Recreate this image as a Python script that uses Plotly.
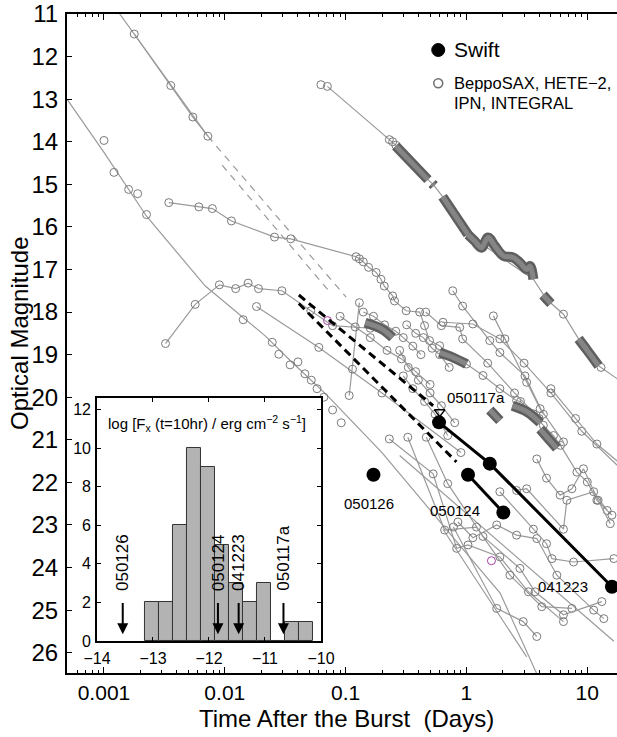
import plotly.graph_objects as go

# ---------------- DATA ----------------
# Pre-Swift afterglows (time after burst in days, optical magnitude)
grb_a_t = [0.00178, 0.00357, 0.00544, 0.00724]
grb_a_mag = [11.47, 12.68, 13.42, 13.87]
grb_a_fit_t = [0.00135, 0.00724]
grb_a_fit_mag = [11.0, 13.87]
grb_a_ext1_t = [0.00724, 0.101]
grb_a_ext1_mag = [13.87, 17.65]
grb_a_ext2_t = [0.0095, 0.075]
grb_a_ext2_mag = [14.55, 17.55]

grb_b_t = [0.00100, 0.00121, 0.00160, 0.00190, 0.00225, 0.0142, 0.0247, 0.0280, 0.0347, 0.0403, 0.046, 0.052, 0.058, 0.066, 0.078, 0.092]
grb_b_mag = [13.97, 14.72, 15.12, 15.22, 15.71, 18.18, 18.71, 18.99, 19.24, 19.17, 19.45, 19.6, 19.8, 20.0, 20.3, 20.6]
grb_b_fit_t = [0.000494, 0.001, 0.00225, 0.0069, 0.0216, 0.036, 0.07, 0.2, 0.88, 1.9, 3.8]
grb_b_fit_mag = [13.0, 14.25, 15.75, 17.39, 18.56, 19.18, 19.95, 21.3, 23.48, 24.6, 26.48]

grb_c_t = [0.00344, 0.0061, 0.00789, 0.01135, 0.0258, 0.0351, 0.122, 0.13, 0.14, 0.155, 0.179, 0.196,
           0.209, 0.245, 0.254, 0.317, 0.41, 0.45, 0.495, 0.6, 0.75, 1.0, 1.37, 1.89, 2.6, 2.8, 3.58,
           4.33, 5.25, 6.0, 8.2, 10.0, 12.0, 16.0]
grb_c_mag = [15.43, 15.53, 15.57, 15.86, 16.24, 16.28, 16.70, 16.75, 16.82, 16.95, 17.07, 17.23,
             17.39, 17.62, 17.74, 17.97, 18.0, 18.32, 18.67, 18.79, 19.05, 19.22, 19.49, 19.8, 20.08, 20.1, 20.39,
             20.66, 20.9, 21.13, 21.76, 21.99, 22.42, 22.77]

grb_d_t = [0.0624, 0.0706, 0.23, 0.245, 0.26, 4.6, 6.35, 13.0]
grb_d_mag = [12.66, 12.70, 13.95, 14.0, 14.08, 17.7, 18.05, 19.3]
grb_d_line_t = [0.0706, 0.26, 0.48, 0.53, 0.635, 1.03, 3.58, 4.6, 6.35, 8.47, 12.4, 17.75]
grb_d_line_mag = [12.7, 14.08, 14.89, 15.0, 15.29, 16.18, 17.23, 17.7, 18.05, 18.63, 19.26, 19.57]

grb_e_t = [0.00323, 0.00569, 0.00902, 0.0123, 0.0156, 0.019, 0.0297, 0.0515, 0.078, 0.16]
grb_e_mag = [18.74, 17.82, 17.36, 17.45, 17.32, 17.45, 17.50, 17.97, 18.32, 18.38]

grb_f_t = [0.0183, 0.06, 0.2, 0.9]
grb_f_mag = [17.87, 18.83, 19.9, 21.3]
grb_g_t = [0.13, 0.114, 0.107]
grb_g_mag = [17.78, 19.34, 19.96]

lr1_t = [0.23, 0.53, 0.83, 1.03, 1.89, 3.26, 6.35]
lr1_mag = [20.98, 21.8, 23.55, 23.47, 23.75, 24.57, 25.27]
lr2_t = [0.327, 0.66, 1.21, 2.29, 4.2, 7.46]
lr2_mag = [20.94, 23.12, 23.05, 24.18, 24.92, 24.96]
lr3_t = [0.465, 0.7, 1.37, 2.77, 3.7, 6.35, 13.2]
lr3_mag = [20.94, 22.03, 23.27, 24.02, 24.57, 25.11, 24.8]
lr4_t = [0.78, 1.78, 2.95, 3.82]
lr4_mag = [23.05, 24.96, 25.27, 25.62]
lr5_t = [0.85, 1.13, 1.78, 2.6, 3.82, 5.6, 11.3, 13.7]
lr5_mag = [22.93, 23.3, 23.0, 23.24, 23.32, 24.18, 25.0, 25.2]
lr6_t = [1.89, 3.58, 4.6, 5.1, 7.7, 16.6]
lr6_mag = [22.22, 23.1, 23.44, 23.79, 23.87, 23.79]
lr7_t = [2.6, 3.15, 6.35, 6.78, 11.3, 14.6]
lr7_mag = [22.19, 22.15, 23.1, 22.42, 22.22, 22.66]
lr8_t = [3.82, 4.6, 5.96, 7.46, 9.3, 12.3, 15.5]
lr8_mag = [21.45, 21.9, 22.3, 22.15, 21.68, 22.42, 22.97]

ur1_t = [0.77, 0.93, 1.56, 1.89, 3.05, 4.33]
ur1_mag = [17.5, 17.86, 18.67, 18.95, 19.5, 20.4]
ur2_t = [1.67, 2.08, 3.15, 4.07, 6.35]
ur2_mag = [18.09, 18.63, 19.65, 20.27, 21.05]
ur3_t = [0.46, 0.62, 0.88, 0.93, 1.5, 2.5, 4.0]
ur3_mag = [18.0, 18.32, 18.36, 18.63, 19.2, 19.9, 20.5]
ur4_t = [0.64, 1.13, 1.89, 3.0, 5.0, 9.0, 17.7]
ur4_mag = [18.24, 18.28, 18.63, 19.2, 19.9, 20.8, 21.6]
ur5_t = [5.0, 8.0, 12.0, 17.7]
ur5_mag = [19.8, 20.5, 21.1, 21.5]
mid1_t = [0.28, 0.33, 0.4, 0.5, 0.62, 0.8]
mid1_mag = [18.9, 19.3, 19.6, 19.9, 20.2, 20.6]
mid2_t = [0.3, 0.36, 0.45, 0.55, 0.7]
mid2_mag = [19.5, 19.8, 20.1, 20.4, 20.9]
mid3_t = [0.14, 0.17, 0.21, 0.26, 0.3, 0.36, 0.42]
mid3_mag = [18.0, 18.1, 18.3, 18.45, 18.6, 18.8, 19.0]
mid4_t = [0.09, 0.12, 0.16, 0.22, 0.29, 0.38, 0.5]
mid4_mag = [18.1, 18.35, 18.6, 18.9, 19.1, 19.4, 19.7]
mid5_t = [0.32, 0.38, 0.44, 0.52, 0.6, 0.72]
mid5_mag = [18.3, 18.5, 18.6, 18.85, 19.0, 19.3]

long1_t = [0.28, 16.6]
long1_mag = [21.37, 25.73]
long2_t = [0.64, 3.15]
long2_mag = [23.1, 26.1]

# densely sampled segments (drawn as thick bands)
band1_t = [0.26, 0.48]
band1_mag = [14.1, 14.89]
band2_t = [0.52, 0.54]
band2_mag = [14.98, 15.03]
band3_t = [0.635, 1.03]
band3_mag = [15.29, 16.18]
band4_t = [1.03, 1.17, 1.33, 1.51, 1.72, 2.02, 2.44, 2.77, 3.15, 3.36, 3.58]
band4_mag = [16.18, 16.33, 16.49, 16.25, 16.45, 16.68, 16.72, 16.84, 17.0, 16.92, 17.23]
band5_t = [4.3, 5.0]
band5_mag = [17.6, 17.8]
band6_t = [8.47, 10.0, 12.4]
band6_mag = [18.63, 18.9, 19.26]
band7_t = [0.6, 0.75, 1.0]
band7_mag = [18.95, 19.05, 19.22]
band8_t = [0.145, 0.2, 0.245]
band8_mag = [18.25, 18.4, 18.6]
band9_t = [1.56, 1.89]
band9_mag = [20.3, 20.55]
band10_t = [2.4, 3.2, 4.07]
band10_mag = [20.2, 20.35, 20.6]
band11_t = [4.07, 5.6]
band11_mag = [20.75, 21.2]

magenta_t = [0.0708, 1.61]
magenta_mag = [18.2, 23.84]

# Swift afterglows
swift_041223_t = [0.593, 1.56, 16.0]
swift_041223_mag = [20.59, 21.56, 24.45]
swift_050124_t = [1.03, 2.02]
swift_050124_mag = [21.82, 22.71]
swift_050126_t = [0.17]
swift_050126_mag = [21.82]
swift_050117a_lim_t = [0.6]
swift_050117a_lim_mag = [20.35]
swift_ext1_t = [0.041, 0.53]
swift_ext1_mag = [17.6, 20.2]
swift_ext2_t = [0.041, 0.826]
swift_ext2_mag = [17.8, 21.52]

# Inset: distribution of log X-ray flux at t = 10 hr
fx_bin_centers = [-13.01, -12.76, -12.51, -12.26, -12.01, -11.76, -11.51, -11.26, -11.01, -10.76, -10.51, -10.26]
fx_counts = [2, 2, 6, 10, 9, 5, 3, 2, 3, 0, 1, 1]
fx_bin_width = 0.25
swift_fx_names = ["050126", "050124", "041223", "050117a"]
swift_fx_logflux = [-13.54, -11.84, -11.47, -10.67]

x_tick_vals = [0.001, 0.01, 0.1, 1, 10]
x_tick_text = ["0.001", "0.01", "0.1", "1", "10"]
y_tick_vals = list(range(11, 27))
inset_x_ticks = [-14, -13, -12, -11, -10]
inset_y_ticks = [0, 2, 4, 6, 8, 10, 12]

# ---------------- FIGURE ----------------
GRAY_LINE = "#9a9a9a"
GRAY_MARK = "#7a7a7a"
FONT = "Liberation Sans, Arial, sans-serif"

fig = go.Figure()

def add_curve(t, m, mode="lines+markers", dash=None, width=1.2, color=GRAY_LINE):
    fig.add_trace(go.Scatter(
        x=t, y=m, mode=mode, showlegend=False, hoverinfo="skip",
        line=dict(color=color, width=width, dash=dash),
        marker=dict(symbol="circle-open", size=8, color=GRAY_MARK, line=dict(width=1, color=GRAY_MARK)),
        xaxis="x", yaxis="y", cliponaxis=True))

fit_lines = [(grb_a_fit_t, grb_a_fit_mag), (grb_b_fit_t, grb_b_fit_mag), (grb_d_line_t, grb_d_line_mag),
             (long1_t, long1_mag), (long2_t, long2_mag)]
for t, m in fit_lines:
    add_curve(t, m, mode="lines")
for t, m in [(grb_a_ext1_t, grb_a_ext1_mag), (grb_a_ext2_t, grb_a_ext2_mag)]:
    add_curve(t, m, mode="lines", dash="7px,6px")

curves = [(grb_a_t, grb_a_mag), (grb_c_t, grb_c_mag), (grb_e_t, grb_e_mag), (grb_f_t, grb_f_mag),
          (grb_g_t, grb_g_mag), (lr1_t, lr1_mag), (lr2_t, lr2_mag), (lr3_t, lr3_mag), (lr4_t, lr4_mag),
          (lr5_t, lr5_mag), (lr6_t, lr6_mag), (lr7_t, lr7_mag), (lr8_t, lr8_mag), (ur1_t, ur1_mag),
          (ur2_t, ur2_mag), (ur3_t, ur3_mag), (ur4_t, ur4_mag), (ur5_t, ur5_mag), (mid1_t, mid1_mag),
          (mid2_t, mid2_mag), (mid3_t, mid3_mag), (mid4_t, mid4_mag), (mid5_t, mid5_mag)]
for t, m in curves:
    add_curve(t, m)
add_curve(grb_b_t, grb_b_mag, mode="markers")
add_curve(grb_d_t, grb_d_mag, mode="markers")

bands = [(band1_t, band1_mag), (band2_t, band2_mag), (band3_t, band3_mag), (band4_t, band4_mag),
         (band5_t, band5_mag), (band6_t, band6_mag), (band7_t, band7_mag), (band8_t, band8_mag),
         (band9_t, band9_mag), (band10_t, band10_mag), (band11_t, band11_mag)]
for t, m in bands:
    fig.add_trace(go.Scatter(x=t, y=m, mode="lines", showlegend=False, hoverinfo="skip",
                             line=dict(color="#5f5f5f", width=10, shape="spline")))
    fig.add_trace(go.Scatter(x=t, y=m, mode="lines", showlegend=False, hoverinfo="skip",
                             line=dict(color="#858585", width=5, shape="spline")))

fig.add_trace(go.Scatter(x=magenta_t, y=magenta_mag, mode="markers", showlegend=False, hoverinfo="skip",
                         marker=dict(symbol="circle-open", size=8, color="#a43fa4", line=dict(width=1))))

# Swift
for t, m in [(swift_ext1_t, swift_ext1_mag), (swift_ext2_t, swift_ext2_mag)]:
    fig.add_trace(go.Scatter(x=t, y=m, mode="lines", showlegend=False, hoverinfo="skip",
                             line=dict(color="black", width=3, dash="8px,5px")))
for t, m in [(swift_041223_t, swift_041223_mag), (swift_050124_t, swift_050124_mag),
             (swift_050126_t, swift_050126_mag)]:
    fig.add_trace(go.Scatter(x=t, y=m, mode="lines+markers", showlegend=False, hoverinfo="skip",
                             line=dict(color="black", width=3),
                             marker=dict(symbol="circle", size=14, color="black"), cliponaxis=False))
fig.add_trace(go.Scatter(x=swift_050117a_lim_t, y=swift_050117a_lim_mag, mode="markers", showlegend=False,
                         hoverinfo="skip",
                         marker=dict(symbol="triangle-down-open", size=9, color="black", line=dict(width=1.5))))

# Inset histogram
fig.add_trace(go.Bar(x=fx_bin_centers, y=fx_counts, width=fx_bin_width, xaxis="x2", yaxis="y2",
                     marker=dict(color="#b3b3b3", line=dict(color="#333333", width=1)),
                     showlegend=False, hoverinfo="skip"))

annotations = []
for txt, lx, ly in [("050117a", 0.083, 20.0), ("050126", -0.804, 22.5), ("050124", -0.097, 22.66),
                    ("041223", 0.80, 24.44)]:
    annotations.append(dict(x=lx, y=ly, xref="x", yref="y", text=txt, showarrow=False,
                            font=dict(size=15, color="black", family=FONT)))
for name, v in zip(swift_fx_names, swift_fx_logflux):
    annotations.append(dict(x=v, y=0.35, xref="x2", yref="y2", ax=v, ay=2.05, axref="x2", ayref="y2",
                            text="", showarrow=True, arrowhead=2, arrowsize=1.1, arrowwidth=2,
                            arrowcolor="black"))
    annotations.append(dict(x=v, y=2.5, xref="x2", yref="y2", text=name, textangle=-90, showarrow=False,
                            xanchor="center", yanchor="bottom",
                            font=dict(size=17, color="black", family=FONT)))
annotations.append(dict(x=-12.03, y=11.3, xref="x2", yref="y2",
                        text="log [F<sub>x</sub> (t=10hr) / erg cm<sup>\u22122</sup> s<sup>\u22121</sup>]",
                        showarrow=False, font=dict(size=15, color="black", family=FONT)))
annotations.append(dict(x=0.7, y=0.9454, xref="paper", yref="paper", text="Swift", showarrow=False,
                        xanchor="left", yanchor="middle", font=dict(size=21, color="black", family=FONT)))
annotations.append(dict(x=0.7, y=0.8948, xref="paper", yref="paper", text="BeppoSAX, HETE\u22122,",
                        showarrow=False, xanchor="left", yanchor="middle",
                        font=dict(size=16.5, color="black", family=FONT)))
annotations.append(dict(x=0.7, y=0.8646, xref="paper", yref="paper", text="IPN, INTEGRAL",
                        showarrow=False, xanchor="left", yanchor="middle",
                        font=dict(size=16.5, color="black", family=FONT)))
annotations.append(dict(x=0.508, y=-0.069, xref="paper", yref="paper",
                        text="Time After the Burst\u00a0 (Days)", showarrow=False,
                        xanchor="center", yanchor="middle", font=dict(size=24, color="black", family=FONT)))
annotations.append(dict(x=-0.0855, y=0.516, xref="paper", yref="paper", text="Optical Magnitude",
                        textangle=-90, showarrow=False, xanchor="center", yanchor="middle",
                        font=dict(size=24, color="black", family=FONT)))

shapes = [
    dict(type="circle", xref="paper", yref="paper", xsizemode="pixel", ysizemode="pixel",
         xanchor=0.675, yanchor=0.9454, x0=-6.5, x1=6.5, y0=-6.5, y1=6.5,
         fillcolor="black", line=dict(color="black", width=1)),
    dict(type="circle", xref="paper", yref="paper", xsizemode="pixel", ysizemode="pixel",
         xanchor=0.675, yanchor=0.8948, x0=-4.5, x1=4.5, y0=-4.5, y1=4.5,
         fillcolor="rgba(0,0,0,0)", line=dict(color="#6f6f6f", width=1.5)),
]

fig.update_layout(
    width=617, height=737, autosize=False,
    margin=dict(l=67, r=0, t=14, b=64, pad=0),
    paper_bgcolor="white", plot_bgcolor="white",
    font=dict(family=FONT, color="black"),
    showlegend=False,
    bargap=0,
    annotations=annotations,
    shapes=shapes,
    xaxis=dict(type="log", range=[-3.306, 1.246], tickvals=x_tick_vals, ticktext=x_tick_text,
               ticks="inside", ticklen=6, tickwidth=1.2, tickcolor="black", automargin=False,
               showline=True, linecolor="black", linewidth=2, mirror="ticks",
               showgrid=False, zeroline=False, tickfont=dict(size=21), ticklabelstandoff=0,
               minor=dict(ticks="inside", ticklen=3, tickcolor="black", tickwidth=1,
                          tickvals=[k * 10 ** e for e in range(-4, 2) for k in range(2, 10)])),
    yaxis=dict(range=[26.477, 11.0], tickvals=y_tick_vals, ticks="inside", ticklen=5, tickwidth=1.2,
               tickcolor="black", showline=True, linecolor="black", linewidth=2, showgrid=False,
               zeroline=False, tickfont=dict(size=24), ticklabelstandoff=2, automargin=False),
    xaxis2=dict(domain=[0.0545, 0.4618], anchor="y2", range=[-14, -10], tickvals=inset_x_ticks,
                ticks="inside", ticklen=4, tickcolor="black", showline=True, linecolor="black",
                linewidth=1.5, mirror="ticks", showgrid=False, zeroline=False, automargin=False,
                tickfont=dict(size=16), ticklabelstandoff=2),
    yaxis2=dict(domain=[0.0486, 0.4173], anchor="x2", range=[0, 12.6], tickvals=inset_y_ticks,
                ticks="inside", ticklen=4, tickcolor="black", showline=True, linecolor="black",
                linewidth=1.5, mirror="ticks", showgrid=False, zeroline=False, automargin=False,
                tickfont=dict(size=16), ticklabelstandoff=1),
)

fig.write_html("out.html", config={"responsive": False})
